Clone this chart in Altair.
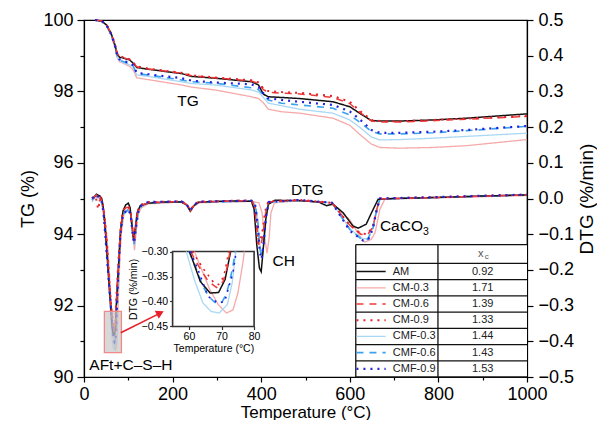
import altair as alt
import pandas as pd

FONT = "Liberation Sans"
W, H = 443, 357

SERIES = ["AM", "CM-0.3", "CM-0.6", "CM-0.9", "CMF-0.3", "CMF-0.6", "CMF-0.9"]
XC_VALUES = ["0.92", "1.71", "1.39", "1.33", "1.44", "1.43", "1.53"]
COLORS = ["#111111", "#f6a9a9", "#f03a3a", "#e3242b", "#a8d8f4", "#3aa2ee", "#2222dd"]
DASHES = [[1, 0], [1, 0], [7, 6], [2, 5], [1, 0], [7, 6], [2, 5]]
WIDTHS = [1.5, 1.3, 1.5, 2.0, 1.3, 1.6, 2.2]
DRAW_ORDER = ["CM-0.3", "CMF-0.3", "CMF-0.6", "AM", "CM-0.6", "CM-0.9", "CMF-0.9"]

# ---- TG curves (common temperature grid) ----
TG_T = [25, 40, 51, 62, 70, 75, 80, 90, 103, 111, 119, 145, 220, 243, 296, 378, 394, 405, 416, 446,
        487, 562, 600, 622, 649, 668, 713, 788, 864, 1000]
TG_AM = [100.0, 99.97, 99.86, 99.6, 99.3, 99.05, 98.96, 98.93, 98.88, 98.79,
         98.67, 98.62, 98.5, 98.42, 98.37, 98.27, 98.18, 97.92, 97.85, 97.83,
         97.8, 97.71, 97.57, 97.39, 97.18, 97.17, 97.17, 97.2, 97.25, 97.37]
TG_CM03 = [100.0, 99.96, 99.84, 99.55, 99.22, 98.95, 98.83, 98.78, 98.7, 98.6,
           98.38, 98.33, 98.18, 98.12, 98.04, 97.85, 97.8, 97.68, 97.5, 97.43,
           97.39, 97.25, 97.05, 96.8, 96.52, 96.43, 96.41, 96.43, 96.48, 96.65]
TG_CM06 = [100.0, 99.97, 99.86, 99.6, 99.3, 99.06, 98.98, 98.94, 98.89, 98.8,
           98.69, 98.63, 98.51, 98.44, 98.38, 98.29, 98.22, 98.05, 97.98, 97.95,
           97.93, 97.83, 97.66, 97.42, 97.17, 97.14, 97.14, 97.18, 97.22, 97.3]
TG_CM09 = [100.0, 99.97, 99.87, 99.61, 99.31, 99.07, 98.99, 98.95, 98.9, 98.81,
           98.7, 98.64, 98.52, 98.45, 98.39, 98.31, 98.25, 98.08, 98.01, 97.98,
           97.96, 97.87, 97.71, 97.46, 97.2, 97.17, 97.16, 97.2, 97.24, 97.31]
TG_CMF03 = [100.0, 99.96, 99.84, 99.56, 99.24, 98.97, 98.86, 98.8, 98.74, 98.69,
            98.46, 98.42, 98.27, 98.22, 98.18, 98.04, 97.98, 97.83, 97.67, 97.6,
            97.5, 97.39, 97.2, 97.0, 96.72, 96.64, 96.65, 96.69, 96.74, 96.83]
TG_CMF06 = [100.0, 99.96, 99.85, 99.57, 99.25, 98.99, 98.88, 98.83, 98.77, 98.71,
            98.5, 98.46, 98.32, 98.27, 98.23, 98.1, 98.05, 97.9, 97.76, 97.67,
            97.62, 97.53, 97.34, 97.14, 96.88, 96.81, 96.81, 96.84, 96.9, 97.02]
TG_CMF09 = [100.0, 99.97, 99.85, 99.58, 99.27, 99.0, 98.9, 98.85, 98.8, 98.73,
            98.52, 98.48, 98.37, 98.3, 98.25, 98.2, 98.12, 97.95, 97.81, 97.76,
            97.71, 97.62, 97.44, 97.22, 96.92, 96.84, 96.84, 96.87, 96.92, 97.03]
TG_DATA = {"AM": TG_AM, "CM-0.3": TG_CM03, "CM-0.6": TG_CM06, "CM-0.9": TG_CM09,
           "CMF-0.3": TG_CMF03, "CMF-0.6": TG_CMF06, "CMF-0.9": TG_CMF09}

# ---- DTG curves: (temperature, %/min) ----
DTG_AM = [(20, 0.0), (28, 0.012), (36, 0.007), (40, 0.0), (43, -0.02), (47, -0.07), (51, -0.134),
          (55, -0.21), (58, -0.265), (60.2, -0.30), (63.5, -0.36), (66.5, -0.383), (69.1, -0.382),
          (71.1, -0.356), (72.8, -0.30), (75.5, -0.24), (79, -0.17), (83, -0.085), (88, -0.035),
          (94, -0.018), (100, -0.013), (104, -0.025), (108, -0.07), (112, -0.118), (116, -0.08),
          (120, -0.04), (127, -0.02), (145, -0.013), (182, -0.01), (220, -0.01), (232, -0.018),
          (240, -0.035), (248, -0.02), (258, -0.011), (296, -0.008), (340, -0.007), (378, -0.008),
          (384, -0.03), (390, -0.13), (396, -0.195), (400, -0.205), (404, -0.15), (410, -0.06),
          (416, -0.016), (431, -0.005), (487, -0.006), (530, -0.01), (547, -0.02), (562, -0.016),
          (585, -0.04), (607, -0.077), (619, -0.083), (637, -0.072), (649, -0.04), (664, -0.002),
          (700, 0.0), (800, 0.003), (900, 0.007), (1000, 0.01)]
DTG_CM03 = [(20, -0.005), (28, 0.005), (36, 0.0), (42, -0.012), (47, -0.05), (52, -0.11), (57, -0.2),
            (61.7, -0.30), (66.4, -0.376), (69, -0.406), (71.5, -0.423), (73.5, -0.417), (75, -0.384),
            (76.5, -0.325), (77, -0.30), (80, -0.2), (84, -0.1), (90, -0.045), (100, -0.03),
            (106, -0.04), (110, -0.09), (114, -0.145), (118, -0.09), (122, -0.045), (130, -0.025),
            (145, -0.015), (220, -0.01), (232, -0.02), (240, -0.038), (248, -0.022), (260, -0.012),
            (378, -0.008), (395, -0.012), (402, -0.04), (408, -0.11), (413, -0.153), (418, -0.11),
            (422, -0.04), (430, -0.012), (487, -0.006), (560, -0.012), (600, -0.06), (620, -0.1),
            (634, -0.122), (648, -0.115), (657, -0.096), (668, -0.03), (679, -0.002), (800, 0.002),
            (1000, 0.008)]
DTG_CM06 = [(20, 0.002), (28, 0.01), (33, -0.01), (38, 0.0), (43, -0.02), (47, -0.06), (52, -0.13),
            (57, -0.23), (60.5, -0.30), (63.5, -0.335), (66, -0.36), (68.5, -0.372), (70.5, -0.36),
            (71.8, -0.33), (72.6, -0.30), (75.5, -0.23), (79, -0.16), (83, -0.08), (88, -0.035),
            (95, -0.025), (100, -0.025), (105, -0.035), (109, -0.08), (113, -0.12), (117, -0.08),
            (121, -0.04), (128, -0.02), (145, -0.012), (220, -0.008), (232, -0.017), (240, -0.034),
            (248, -0.019), (258, -0.01), (378, -0.006), (385, -0.02), (390, -0.08), (395, -0.13),
            (399, -0.135), (404, -0.1), (410, -0.04), (417, -0.01), (487, -0.005), (560, -0.012),
            (600, -0.075), (625, -0.1), (640, -0.102), (652, -0.08), (661, -0.03), (668, -0.001),
            (800, 0.003), (1000, 0.01)]
DTG_CM09 = [(20, 0.0), (26, 0.008), (32, -0.03), (37, 0.0), (43, -0.02), (47, -0.06), (52, -0.13),
            (57, -0.23), (61, -0.30), (64.6, -0.336), (67.6, -0.362), (69.1, -0.366), (70.7, -0.35),
            (71.7, -0.318), (72.2, -0.30), (75, -0.23), (79, -0.15), (83, -0.075), (88, -0.035),
            (95, -0.022), (100, -0.022), (105, -0.035), (109, -0.08), (113, -0.115), (117, -0.075),
            (121, -0.035), (128, -0.018), (145, -0.01), (220, -0.008), (232, -0.016), (240, -0.033),
            (248, -0.018), (258, -0.009), (378, -0.005), (385, -0.02), (389, -0.07), (393, -0.124),
            (398, -0.12), (403, -0.09), (409, -0.035), (416, -0.008), (487, -0.004), (560, -0.012),
            (600, -0.075), (625, -0.098), (640, -0.1), (652, -0.078), (661, -0.03), (668, 0.0),
            (800, 0.004), (1000, 0.011)]
DTG_CMF03 = [(18, -0.01), (26, 0.005), (34, 0.0), (40, -0.012), (44, -0.04), (48, -0.1), (53, -0.19),
             (59.2, -0.30), (61.7, -0.357), (64.3, -0.403), (66.8, -0.42), (69.3, -0.423),
             (71.8, -0.406), (73.3, -0.362), (74.4, -0.30), (78, -0.2), (82, -0.1), (88, -0.045),
             (98, -0.035), (105, -0.045), (109, -0.09), (113, -0.13), (117, -0.085), (122, -0.04),
             (130, -0.02), (145, -0.013), (220, -0.01), (232, -0.018), (240, -0.035), (248, -0.02),
             (258, -0.011), (378, -0.008), (386, -0.015), (392, -0.06), (398, -0.14), (402, -0.165),
             (407, -0.12), (412, -0.05), (418, -0.012), (487, -0.006), (560, -0.012), (600, -0.085),
             (627, -0.112), (640, -0.113), (652, -0.085), (661, -0.03), (668, -0.002), (800, 0.003),
             (1000, 0.01)]
DTG_CMF06 = [(18, -0.005), (26, 0.008), (34, 0.003), (40, -0.01), (44, -0.04), (48, -0.1), (54, -0.2),
             (60, -0.30), (62, -0.33), (64, -0.365), (66, -0.39), (68, -0.402), (70, -0.403),
             (71.5, -0.385), (72.5, -0.36), (73.5, -0.33), (74.2, -0.30), (77.5, -0.2), (81.5, -0.1),
             (88, -0.045), (98, -0.032), (105, -0.045), (109, -0.09), (113, -0.128), (117, -0.085),
             (122, -0.04), (130, -0.02), (145, -0.012), (220, -0.009), (232, -0.018), (240, -0.034),
             (248, -0.02), (258, -0.01), (378, -0.007), (386, -0.015), (392, -0.06), (397, -0.14),
             (401, -0.165), (406, -0.12), (411, -0.05), (417, -0.01), (487, -0.005), (560, -0.012),
             (600, -0.087), (627, -0.115), (640, -0.115), (652, -0.085), (661, -0.03), (668, -0.001),
             (800, 0.003), (1000, 0.01)]
DTG_CMF09 = [(18, 0.0), (26, 0.01), (34, 0.004), (40, -0.008), (44, -0.04), (48, -0.1), (54, -0.2),
             (60.5, -0.30), (63, -0.34), (65.9, -0.39), (69, -0.403), (71, -0.4), (72, -0.376),
             (73.5, -0.343), (74.5, -0.30), (78, -0.2), (82, -0.1), (88, -0.045), (98, -0.03),
             (105, -0.042), (109, -0.09), (113, -0.125), (117, -0.085), (122, -0.04), (130, -0.018),
             (145, -0.01), (220, -0.008), (232, -0.017), (240, -0.033), (248, -0.018), (258, -0.009),
             (378, -0.006), (386, -0.015), (392, -0.07), (397, -0.15), (401, -0.17), (406, -0.12),
             (411, -0.05), (417, -0.01), (487, -0.004), (560, -0.012), (600, -0.09), (630, -0.118),
             (642, -0.114), (652, -0.085), (661, -0.03), (668, 0.0), (800, 0.004), (1000, 0.011)]
DTG_DATA = {"AM": DTG_AM, "CM-0.3": DTG_CM03, "CM-0.6": DTG_CM06, "CM-0.9": DTG_CM09,
            "CMF-0.3": DTG_CMF03, "CMF-0.6": DTG_CMF06, "CMF-0.9": DTG_CMF09}

# ---- axis ticks ----
X_TICKS = [0, 100, 200, 300, 400, 500, 600, 700, 800, 900, 1000]
TG_TICKS = [90, 91, 92, 93, 94, 95, 96, 97, 98, 99, 100]
DTG_TICKS = [-0.5, -0.4, -0.3, -0.2, -0.1, 0.0, 0.1, 0.2, 0.3, 0.4, 0.5]
INSET_X_TICKS = [60, 70, 80]
INSET_Y_TICKS = [-0.45, -0.40, -0.35, -0.30]

# ---- annotation anchors (data coordinates) ----
INSET_T = [200, 384]            # temperature span of the inset box on the main axis
INSET_D = [-0.3585, -0.1485]    # DTG span of the inset box on the main axis
ZOOM_BOX = {"x0": 46, "x1": 84.5, "y0": -0.432, "y1": -0.316}
ARROW = {"x0": 83, "y0": -0.376, "x1": 172, "y1": -0.321}
TABLE_LEFT, TABLE_MID, TABLE_RIGHT = 613.5, 799, 1000
TABLE_TOP, HEADER_BOTTOM, TABLE_BOTTOM = -0.129, -0.182, -0.5

x_scale = alt.Scale(domain=[0, 1000], nice=False, zero=False)
tg_scale = alt.Scale(domain=[90, 100], nice=False, zero=False)
dtg_scale = alt.Scale(domain=[-0.5, 0.5], nice=False, zero=False)

x_axis = alt.Axis(title="Temperature (°C)", orient="bottom", values=X_TICKS, format="d", labelFlush=False,
                  labelExpr="datum.value % 200 === 0 ? datum.label : ''",
                  tickSize={"condition": {"test": "datum.value % 200 === 0", "value": 5}, "value": 3},
                  labelFontSize=18, titleFontSize=17, labelPadding=3, titlePadding=1)
tg_axis = alt.Axis(title="TG (%)", orient="left", values=TG_TICKS, labelFlush=False,
                   labelExpr="datum.value % 2 === 0 ? datum.label : ''",
                   tickSize={"condition": {"test": "datum.value % 2 === 0", "value": 7}, "value": 4},
                   labelFontSize=18, titleFontSize=18, labelPadding=4, titlePadding=5,
                   titleAngle=270, titleBaseline="bottom", titleAlign="center", titleAnchor="middle")
dtg_axis = alt.Axis(title="DTG (%/min)", orient="right", values=DTG_TICKS, format=".1f", labelFlush=False,
                    tickSize=6, labelFontSize=18, titleFontSize=19, labelPadding=5, titlePadding=4,
                    titleAngle=270, titleBaseline="top", titleAlign="center", titleAnchor="middle")


def xenc(field, axis=None, scale=x_scale):
    return alt.X(field, scale=scale, axis=axis)


def yenc(field, scale, axis=None):
    return alt.Y(field, scale=scale, axis=axis)


def style(name):
    i = SERIES.index(name)
    return dict(color=COLORS[i], strokeDash=DASHES[i], strokeWidth=WIDTHS[i])


def dtg_frame(name):
    pairs = DTG_DATA[name]
    return pd.DataFrame({"T": [p[0] for p in pairs], "v": [p[1] for p in pairs]})


layers = []

# ---------------- TG ----------------
for k, name in enumerate(DRAW_ORDER):
    df = pd.DataFrame({"T": TG_T, "v": TG_DATA[name]})
    layers.append(
        alt.Chart(df).mark_line(**style(name)).encode(
            x=xenc("T:Q", x_axis if k == 0 else None),
            y=yenc("v:Q", tg_scale, tg_axis if k == 0 else None)))
layers.append(
    alt.Chart(pd.DataFrame({"T": [235], "v": [97.73], "label": ["TG"]}))
    .mark_text(fontSize=15.5, font=FONT, color="black")
    .encode(x=xenc("T:Q"), y=yenc("v:Q", tg_scale), text="label:N"))

# ---------------- DTG ----------------
for k, name in enumerate(DRAW_ORDER):
    layers.append(
        alt.Chart(dtg_frame(name)).mark_line(**style(name)).encode(
            x=xenc("T:Q"),
            y=yenc("v:Q", dtg_scale, dtg_axis if k == 0 else None)))

center_labels = pd.DataFrame({"T": [504, 451], "v": [0.0252, -0.1737], "label": ["DTG", "CH"]})
left_labels = pd.DataFrame({"T": [668, 12], "v": [-0.0776, -0.465], "label": ["CaCO", "AFt+C–S–H"]})
layers.append(alt.Chart(center_labels).mark_text(fontSize=15.5, font=FONT, color="black")
              .encode(x=xenc("T:Q"), y=yenc("v:Q", dtg_scale), text="label:N"))
layers.append(alt.Chart(left_labels).mark_text(fontSize=15.5, font=FONT, color="black", align="left")
              .encode(x=xenc("T:Q"), y=yenc("v:Q", dtg_scale), text="label:N"))
layers.append(alt.Chart(pd.DataFrame({"T": [668], "v": [-0.0776], "label": ["3"]}))
              .mark_text(fontSize=10.5, font=FONT, color="black", align="left", dx=43, dy=6)
              .encode(x=xenc("T:Q"), y=yenc("v:Q", dtg_scale), text="label:N"))

# zoom box + arrow
layers.append(alt.Chart(pd.DataFrame([ZOOM_BOX]))
              .mark_rect(fill="#c8c8c8", fillOpacity=0.7, stroke="#f08a8a", strokeWidth=1.3)
              .encode(x=xenc("x0:Q"), x2="x1:Q", y=yenc("y0:Q", dtg_scale), y2="y1:Q"))
layers.append(alt.Chart(pd.DataFrame([ARROW]))
              .mark_rule(color="#e8202a", strokeWidth=1.6)
              .encode(x=xenc("x0:Q"), x2="x1:Q", y=yenc("y0:Q", dtg_scale), y2="y1:Q"))
layers.append(alt.Chart(pd.DataFrame({"T": [ARROW["x1"]], "v": [ARROW["y1"]]}))
              .mark_point(shape="triangle-right", filled=True, size=80, color="#e8202a",
                          opacity=1, angle=333.5)
              .encode(x=xenc("T:Q"), y=yenc("v:Q", dtg_scale)))

# table
row_step = (HEADER_BOTTOM - TABLE_BOTTOM) / len(SERIES)
row_lines = [TABLE_TOP, HEADER_BOTTOM] + [HEADER_BOTTOM - row_step * (i + 1) for i in range(len(SERIES))]
row_centers = [HEADER_BOTTOM - row_step * (i + 0.5) for i in range(len(SERIES))]

layers.append(alt.Chart(pd.DataFrame({"x0": [TABLE_LEFT], "x1": [TABLE_RIGHT],
                                      "y0": [TABLE_TOP], "y1": [TABLE_BOTTOM]}))
              .mark_rect(fill="white")
              .encode(x=xenc("x0:Q"), x2="x1:Q", y=yenc("y0:Q", dtg_scale), y2="y1:Q"))
layers.append(alt.Chart(pd.DataFrame({"y": row_lines, "x0": TABLE_LEFT, "x1": TABLE_RIGHT}))
              .mark_rule(color="#111111", strokeWidth=1.3)
              .encode(x=xenc("x0:Q"), x2="x1:Q", y=yenc("y:Q", dtg_scale)))
layers.append(alt.Chart(pd.DataFrame({"x": [TABLE_LEFT, TABLE_MID], "y0": TABLE_TOP, "y1": TABLE_BOTTOM}))
              .mark_rule(color="#111111", strokeWidth=1.3)
              .encode(x=xenc("x:Q"), y=yenc("y0:Q", dtg_scale), y2="y1:Q"))
for i, name in enumerate(SERIES):
    layers.append(alt.Chart(pd.DataFrame({"x0": [615], "x1": [681], "y": [row_centers[i]]}))
                  .mark_rule(**style(name))
                  .encode(x=xenc("x0:Q"), x2="x1:Q", y=yenc("y:Q", dtg_scale)))
legend_df = pd.DataFrame({"name": SERIES, "xc": XC_VALUES, "y": row_centers,
                          "tx": 697, "vx": 900})
layers.append(alt.Chart(legend_df).mark_text(fontSize=11, font=FONT, color="#222", align="left")
              .encode(x=xenc("tx:Q"), y=yenc("y:Q", dtg_scale), text="name:N"))
layers.append(alt.Chart(legend_df).mark_text(fontSize=11, font=FONT, color="#222", align="center")
              .encode(x=xenc("vx:Q"), y=yenc("y:Q", dtg_scale), text="xc:N"))
header_y = (TABLE_TOP + HEADER_BOTTOM) / 2
layers.append(alt.Chart(pd.DataFrame({"T": [900], "v": [header_y], "label": ["x"]}))
              .mark_text(fontSize=11, font=FONT, color="#555", dx=-2)
              .encode(x=xenc("T:Q"), y=yenc("v:Q", dtg_scale), text="label:N"))
layers.append(alt.Chart(pd.DataFrame({"T": [900], "v": [header_y], "label": ["c"]}))
              .mark_text(fontSize=8, font=FONT, color="#555", dx=4, dy=3)
              .encode(x=xenc("T:Q"), y=yenc("v:Q", dtg_scale), text="label:N"))

# ---------------- inset ----------------
x_range = [INSET_T[0] / 1000 * W, INSET_T[1] / 1000 * W]
y_range = [(0.5 - INSET_D[0]) * H, (0.5 - INSET_D[1]) * H]
ix_scale = alt.Scale(domain=[55, 80], range=x_range, nice=False, zero=False)
iy_scale = alt.Scale(domain=[-0.45, -0.30], range=y_range, nice=False, zero=False)
ix_axis = alt.Axis(orient="bottom", offset=y_range[0] - H, values=INSET_X_TICKS, title="Temperature (°C)",
                   labelFontSize=10.5, titleFontSize=10.5, tickSize=3, labelPadding=2, titlePadding=2,
                   domain=False, tickColor="#333333", labelFlush=False)
iy_axis = alt.Axis(orient="left", offset=-x_range[0], values=INSET_Y_TICKS, format=".2f", title="DTG (%/min)",
                   labelFontSize=10.5, titleFontSize=10.5, tickSize=3, labelPadding=2, titlePadding=3,
                   domain=False, tickColor="#333333", labelFlush=False)

layers.append(
    alt.Chart(pd.DataFrame({"x0": [55], "x1": [80], "y0": [-0.45], "y1": [-0.30]}))
    .mark_rect(fill="white", stroke="#333333", strokeWidth=1.6)
    .encode(x=alt.X("x0:Q", scale=ix_scale, axis=ix_axis), x2="x1:Q",
            y=alt.Y("y0:Q", scale=iy_scale, axis=iy_axis), y2="y1:Q"))
for name in DRAW_ORDER:
    s = style(name)
    s["strokeWidth"] = min(s["strokeWidth"], 1.6)
    layers.append(
        alt.Chart(dtg_frame(name))
        .transform_filter("datum.T >= 55 && datum.T <= 80 && datum.v <= -0.2999")
        .mark_line(**s)
        .encode(x=alt.X("T:Q", scale=ix_scale, axis=None), y=alt.Y("v:Q", scale=iy_scale, axis=None)))

chart = (
    alt.layer(*layers)
    .resolve_scale(x="independent", y="independent")
    .properties(width=W, height=H, padding={"left": 11, "top": 3, "right": 0, "bottom": 0})
    .configure_view(stroke="black", strokeWidth=1.2)
    .configure_axis(grid=False, domainColor="black", domainWidth=1.2, tickColor="black", tickWidth=1.2,
                    labelColor="black", titleColor="black", labelFont=FONT, titleFont=FONT,
                    titleFontWeight="normal")
    .configure_text(font=FONT)
)

chart.save("out.html", embed_options={"renderer": "svg", "actions": False})
